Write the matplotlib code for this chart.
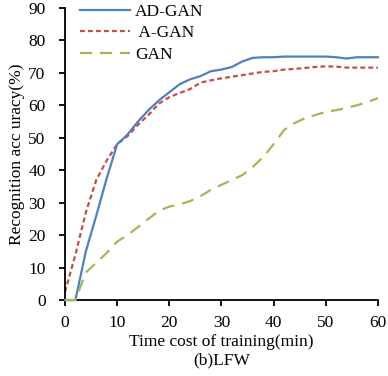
import matplotlib.pyplot as plt

# data
time_min = [0, 2, 4, 6, 8, 10, 12, 14, 16, 18, 20, 22, 24, 26, 28, 30, 32, 34, 36, 38, 40,
            42, 44, 46, 48, 50, 52, 54, 56, 58, 60]
ad_gan = [0, 0, 15, 26, 37.5, 48, 51, 55, 58.5, 61.5, 64, 66.5, 68, 69, 70.5, 71, 71.8,
          73.5, 74.6, 74.8, 74.8, 75, 75, 75, 75, 75, 74.8, 74.4, 74.8, 74.8, 74.8]
a_gan = [2.5, 14, 27, 37, 43, 48, 50.5, 54, 57, 60.5, 62.5, 63.8, 65, 67, 67.7, 68.3, 68.8,
         69.3, 69.8, 70.3, 70.5, 71, 71.2, 71.5, 71.8, 72, 71.9, 71.6, 71.6, 71.6, 71.6]
gan = [0, 0, 8.5, 11.5, 14.5, 18, 20, 22.5, 25, 27.5, 28.8, 29.5, 30.5, 32, 34, 35.5, 37,
       38.5, 41, 44, 48, 52.4, 54.5, 56, 57, 58, 58.5, 59.2, 60, 61, 62.2]

plt.rcParams['font.family'] = ['Liberation Serif', 'DejaVu Serif']
plt.rcParams['font.size'] = 12.5

fig = plt.figure(figsize=(3.88, 3.76), dpi=100)
ax = fig.add_axes([0.1675, 0.202, 0.8065, 0.777])

ax.plot(time_min, ad_gan, color='#4F81BD', lw=1.6, label='AD-GAN', clip_on=False, zorder=3)
ax.plot(time_min, a_gan, color='#C0504D', lw=1.6, ls=(0, (2.2, 1.4)), label=' A-GAN', clip_on=False)
ax.plot(time_min, gan, color='#9BBB59', lw=1.6, ls=(0, (5.5, 3.5)), label='GAN', clip_on=False, zorder=4)

ax.set_xlim(0, 60)
ax.set_ylim(0, 90)
ax.set_xticks(range(0, 61, 10))
ax.set_yticks(range(0, 91, 10))
ax.spines['top'].set_visible(False)
ax.spines['right'].set_visible(False)
ax.spines['left'].set_linewidth(1.3)
ax.spines['bottom'].set_linewidth(1.3)
ax.tick_params(direction='out', length=4, width=1.3)
ax.tick_params(axis='y', pad=10)
ax.tick_params(axis='x', pad=7)

ax.set_xlabel('Time cost of training(min)\n(b)LFW', labelpad=2, linespacing=1.15)
ax.set_ylabel('Recognition acc uracy(%)', labelpad=2)

ax.legend(loc='upper left', bbox_to_anchor=(-0.003, 1.067), frameon=False,
          handlelength=2.9, handletextpad=0.3, labelspacing=0.3, fontsize=12.5)

fig.savefig('out.png', dpi=100)
